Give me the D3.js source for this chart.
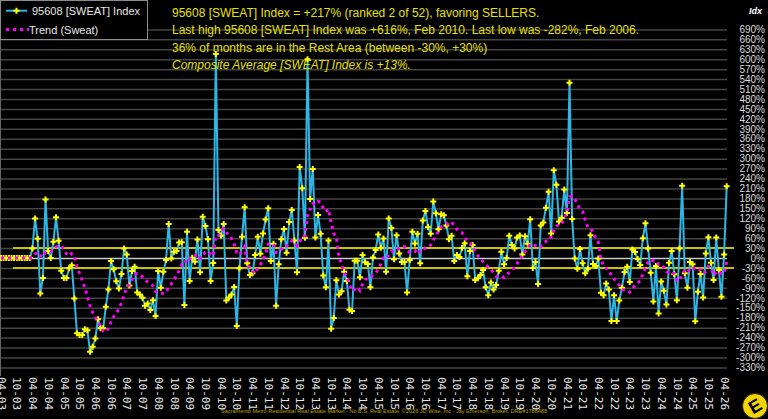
<!DOCTYPE html>
<html>
<head>
<meta charset="utf-8">
<script src="https://cdn.jsdelivr.net/npm/d3@7"></script>
<style>
html, body { margin: 0; padding: 0; background: #000; overflow: hidden; }
text { font-family: "Liberation Sans", Arial, sans-serif; }
</style>
</head>
<body>
<svg id="chart" width="768" height="419"></svg>
<script>
// monthly values, first month = Apr 2003
var sweat = [
  0, 0, 0, 0, 0, 0, 0, 0, 0, 0, 0, 0,
  29, 119, 58, -107, -60, 177, 21, 0, 49, 123, 52, -38,
  -60, -60, -31, -22, -122, -227, -232, -232, -215, -218, -283, -268,
  -243, -185, -212, -212, -147, -95, -9, -34, -70, -92, -48, 29,
  11, -83, -39, -26, -104, -110, -120, -144, -137, -157, -127, -175,
  -39, -90, -41, -6, 103, -1, 19, 21, 47, 48, -142, 79,
  -69, 1, -11, 56, -43, 125, 97, 57, -69, -15, 616, 85,
  67, 103, -128, -119, -110, -87, -205, -31, 64, 153, -16, -51,
  -46, 9, 64, 13, 74, 116, 150, -9, 43, -144, -19, 57,
  88, 16, 109, 145, 53, -43, 275, 211, 61, 600, 178, 269,
  62, 130, 73, -53, -88, 53, -213, -181, -67, -110, -100, -41,
  -69, -156, -160, -8, -8, -58, 9, -13, -18, -88, 2, 24,
  71, 31, 59, -41, 119, 91, -4, 69, 14, -12, -12, -104,
  -6, 79, 44, 73, -16, 113, 142, 94, 73, 171, 135, 87,
  132, 129, 98, 57, 67, -9, 9, 3, 30, 45, -55, 21,
  39, -66, -61, -51, -36, -88, -112, -74, -95, -81, -38, 19,
  -19, 0, 67, 39, 29, 62, 68, 11, 66, 43, 117, -30,
  -12, -78, 98, 107, 152, 200, 74, 265, 221, 110, 121, 207,
  136, 529, 118, -1, -32, 27, -16, -46, -32, 69, -18, -24,
  -1, -105, -112, -77, -95, -190, -112, -190, -128, -90, -42, -26,
  -72, 26, 18, -3, -21, 60, 105, 29, -44, -131, -24, -167,
  -71, -99, -140, -14, 21, -49, -127, 29, 218, -46, -90, -12,
  -19, -191, -102, -48, -119, 14, 63, -14, -66, 62, -36, -117,
  11, 217
];

// trend (sweat)
var trend = [
  0, 0, 0, 0, 0, 0, 0, 0, 0, 0, 0, 0,
  2, 12, 17, 8, 3, 18, 20, 20, 24, 34, 38, 35,
  28, 13, 6, 13, 7, -26, -47, -67, -89, -117, -145, -164,
  -179, -190, -205, -221, -223, -212, -193, -177, -165, -154, -135, -110,
  -89, -80, -66, -50, -47, -48, -57, -66, -72, -77, -84, -101,
  -105, -106, -106, -104, -87, -78, -66, -53, -37, -20, -21, 0,
  -3, 5, 7, 13, 0, 11, 17, 20, 11, 6, 69, 69,
  81, 89, 79, 65, 59, 41, 16, 9, 20, 34, -19, -30,
  -39, -47, -31, -20, -5, 12, 42, 43, 42, 17, 17, 26,
  37, 37, 41, 52, 50, 37, 48, 66, 67, 129, 146, 164,
  161, 171, 168, 151, 140, 148, 107, 74, 64, 4, -19, -45,
  -56, -79, -99, -95, -88, -98, -79, -65, -61, -59, -51, -45,
  -34, -18, 0, -3, 8, 21, 19, 26, 29, 35, 34, 23,
  17, 21, 20, 29, 18, 20, 32, 34, 39, 54, 67, 82,
  94, 98, 103, 101, 108, 98, 87, 79, 76, 65, 49, 44,
  36, 20, 7, -2, -11, -18, -28, -34, -44, -55, -54, -54,
  -59, -53, -42, -35, -29, -17, -2, 5, 19, 29, 42, 38,
  38, 32, 34, 40, 50, 62, 62, 84, 96, 102, 102, 122,
  134, 185, 187, 178, 162, 148, 140, 115, 93, 90, 78, 59,
  48, -5, -24, -31, -36, -54, -62, -74, -82, -95, -97, -97,
  -103, -92, -82, -75, -69, -48, -30, -12, -5, -8, -7, -19,
  -19, -29, -42, -43, -40, -49, -68, -68, -46, -39, -45, -32,
  -27, -35, -32, -35, -46, -41, -25, -29, -53, -44, -39, -48,
  -45, -11
];

// one label every 6 months
var xLabels = ["04-03","10-03","04-04","10-04","04-05","10-05","04-06","10-06","04-07","10-07",
  "04-08","10-08","04-09","10-09","04-10","10-10","04-11","10-11","04-12","10-12",
  "04-13","10-13","04-14","10-14","04-15","10-15","04-16","10-16","04-17","10-17",
  "04-18","10-18","04-19","10-19","04-20","10-20","04-21","10-21","04-22","10-22",
  "04-23","10-23","04-24","10-24","04-25","10-25","04-26"];

var yTicks = [-330,-300,-270,-240,-210,-180,-150,-120,-90,-60,-30,0,30,60,90,120,150,180,
  210,240,270,300,330,360,390,420,450,480,510,540,570,600,630,660,690];

var restBand = [-30, 30];

var notes = [
  "95608 [SWEAT] Index = +217% (ranked 2 of 52), favoring SELLERS.",
  "Last high 95608 [SWEAT] Index was +616%, Feb 2010. Last low was -282%, Feb 2006.",
  "36% of months are in the Rest Area (between -30%, +30%)",
  "Composite Average [SWEAT] Index is +13%."
];

var svg = d3.select("#chart");
var width = 768, height = 419;
var plotRight = 727;

svg.append("rect").attr("width", width).attr("height", height).attr("fill", "#000");

var x = d3.scaleLinear().domain([0, sweat.length - 1]).range([1, 726.7]);
var y = d3.scaleLinear().domain([-330, 690]).range([367.4, 29.4]);

// right axis + gridlines
var yAxis = svg.append("g").attr("transform", "translate(" + plotRight + ",0)")
  .call(d3.axisRight(y).tickValues(yTicks).tickSize(-plotRight).tickFormat(function (d) { return d + "%"; }));
yAxis.select(".domain").remove();
yAxis.selectAll("line")
  .attr("stroke", function (d) { return d === 0 ? "#c8c8c8" : "#454545"; })
  .attr("stroke-width", 1.5);
yAxis.selectAll("text")
  .attr("x", 38).attr("text-anchor", "end")
  .attr("fill", "#dcdcdc")
  .style("font-size", "10px");

svg.append("line").attr("x1", 0.5).attr("x2", 0.5).attr("y1", 0).attr("y2", 376)
  .attr("stroke", "#666").attr("stroke-width", 1);

svg.append("text").attr("x", 762).attr("y", 14).attr("text-anchor", "end")
  .attr("fill", "#fff").style("font-size", "9px").style("font-style", "italic").style("font-weight", "bold")
  .text("Idx");

// bottom axis
var xAxis = svg.append("g").attr("transform", "translate(0,377)")
  .call(d3.axisBottom(x).tickValues(xLabels.map(function (d, i) { return i * 6; }))
    .tickSize(0).tickFormat(function (d) { return xLabels[d / 6]; }));
xAxis.select(".domain").remove();
xAxis.selectAll("text")
  .attr("x", 0).attr("y", 0).attr("dy", "0.35em")
  .attr("transform", "rotate(90)")
  .attr("text-anchor", "start")
  .attr("fill", "#e6e6e6")
  .style("font-family", "'DejaVu Sans Mono', monospace")
  .style("font-size", "11px");

// rest area lines
svg.append("g").selectAll("line").data(restBand).enter().append("line")
  .attr("x1", 13).attr("x2", 734)
  .attr("y1", function (d) { return y(d); }).attr("y2", function (d) { return y(d); })
  .attr("stroke", "#c8c200").attr("stroke-width", 2);

// sweat index line and markers
var line = d3.line().x(function (d, i) { return x(i); }).y(function (d) { return y(d); });

svg.append("path").datum(sweat).attr("d", line)
  .attr("fill", "none").attr("stroke", "#2db7e6").attr("stroke-width", 2).attr("stroke-linejoin", "round");

var marker = d3.symbol().type(d3.symbolCross).size(20);
svg.append("g").selectAll("path").data(sweat).enter().append("path")
  .attr("d", marker)
  .attr("transform", function (d, i) { return "translate(" + x(i) + "," + y(d) + ")"; })
  .attr("fill", "#ffff00");

// trend
svg.append("path").datum(trend).attr("d", line)
  .attr("fill", "none").attr("stroke", "#ff00ff").attr("stroke-width", 3)
  .attr("stroke-dasharray", "3,4");

// legend
var lg = svg.append("g");
lg.append("rect").attr("x", 0.5).attr("y", 0.5).attr("width", 147).attr("height", 39)
  .attr("fill", "#000").attr("stroke", "#8c8c8c").attr("stroke-width", 1);
lg.append("line").attr("x1", 6).attr("x2", 27).attr("y1", 10.7).attr("y2", 10.7)
  .attr("stroke", "#2db7e6").attr("stroke-width", 2);
lg.append("path").attr("d", marker).attr("transform", "translate(16.5,10.7)").attr("fill", "#ffff00");
lg.append("text").attr("x", 32).attr("y", 15).attr("fill", "#e8e8e8").style("font-size", "11px")
  .text("95608 [SWEAT] Index");
lg.append("line").attr("x1", 6).attr("x2", 29).attr("y1", 29.5).attr("y2", 29.5)
  .attr("stroke", "#ff00ff").attr("stroke-width", 3).attr("stroke-dasharray", "3,4");
lg.append("text").attr("x", 29).attr("y", 34).attr("fill", "#e8e8e8").style("font-size", "11px")
  .text("Trend (Sweat)");

// notes
svg.append("g").selectAll("text").data(notes).enter().append("text")
  .attr("x", 172).attr("y", function (d, i) { return 17 + i * 17.3; })
  .attr("fill", "#e8e000").style("font-size", "12px")
  .style("font-style", function (d, i) { return i === 3 ? "italic" : "normal"; })
  .text(function (d) { return d; });

// footer
svg.append("text").attr("x", 221).attr("y", 413)
  .attr("textLength", 326).attr("lengthAdjust", "spacingAndGlyphs")
  .attr("fill", "#b4a400").style("font-size", "5.5px")
  .text("Sacramento Metro Residential Real Estate Market - No B.S. Real Estate, \u00a92026 JD Wise, Inc - Jay Emerson, Broker, DRE#1788488");

// logo
var logo = svg.append("g").attr("transform", "translate(755,406)");
logo.append("circle").attr("r", 12.5).attr("fill", "#f2d400").attr("stroke", "#222").attr("stroke-width", 1);
logo.append("text").attr("text-anchor", "middle").attr("dy", "0.36em")
  .attr("transform", "rotate(-30)")
  .attr("fill", "#000").style("font-size", "18px").style("font-weight", "bold")
  .text("E");
</script>
</body>
</html>
